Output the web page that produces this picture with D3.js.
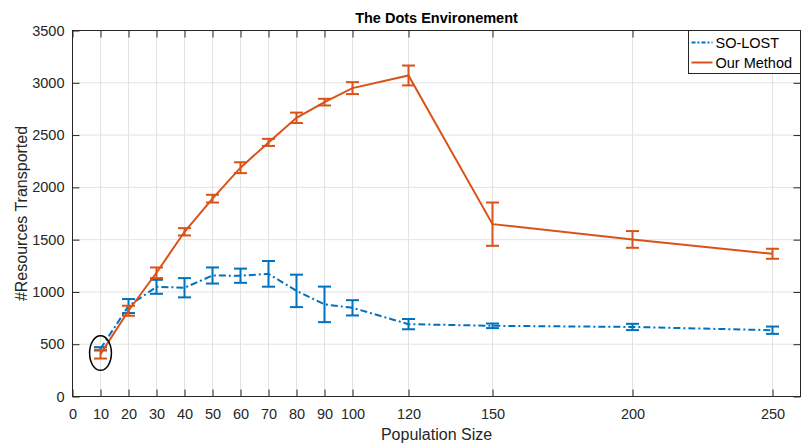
<!DOCTYPE html>
<html>
<head>
<meta charset="utf-8">
<script src="https://cdn.jsdelivr.net/npm/d3@7"></script>
<style>
  body { margin: 0; background: #fff; }
  text { font-family: "Liberation Sans", Arial, sans-serif; }
</style>
</head>
<body>
<div id="figure"></div>
<script>
// population sizes
var popSizes = [10, 20, 30, 40, 50, 60, 70, 80, 90, 100, 120, 150, 200, 250];

// SO-LOST mean and error
var soLost    = [456, 865, 1049, 1040, 1157, 1155, 1173, 1010, 881, 848, 692, 676, 665, 634];
var soLostErr = [16, 67, 67, 92, 77, 68, 123, 155, 170, 73, 49, 22, 30, 35];

// Our Method mean and error
var ourMethod    = [405, 820, 1183, 1575, 1892, 2188, 2430, 2665, 2815, 2949, 3070, 1648, 1502, 1365];
var ourMethodErr = [42, 48, 51, 35, 37, 52, 34, 50, 32, 57, 95, 207, 80, 48];

var xTicks = [0, 10, 20, 30, 40, 50, 60, 70, 80, 90, 100, 120, 150, 200, 250];
var yTicks = [0, 500, 1000, 1500, 2000, 2500, 3000, 3500];

var width = 801, height = 448;
var margin = {top: 30.5, right: 0.5, bottom: 51.5, left: 72.5};

var svg = d3.select("#figure").append("svg")
    .attr("width", width)
    .attr("height", height);

var x = d3.scaleLinear().domain([0, 260]).range([margin.left, width - margin.right]);
var y = d3.scaleLinear().domain([0, 3500]).range([height - margin.bottom, margin.top]);

var blue = "#0072BD", orange = "#D95319", axisCol = "#262626";

// grid
svg.append("g").selectAll("line").data(xTicks).enter().append("line")
    .attr("x1", function(d) { return x(d); }).attr("x2", function(d) { return x(d); })
    .attr("y1", y(0)).attr("y2", y(3500))
    .style("stroke", "#e3e3e3").style("stroke-width", 1);
svg.append("g").selectAll("line").data(yTicks).enter().append("line")
    .attr("x1", x(0)).attr("x2", x(260))
    .attr("y1", function(d) { return y(d); }).attr("y2", function(d) { return y(d); })
    .style("stroke", "#e3e3e3").style("stroke-width", 1);

// axes (ticks inward, box on)
function styleAxis(g) {
  g.select(".domain").remove();
  g.selectAll(".tick line").style("stroke", axisCol);
  g.selectAll(".tick text").style("fill", axisCol).style("font-size", "14.5px")
    .style("font-family", "'Liberation Sans', Arial, sans-serif");
}
svg.append("g").attr("transform", "translate(0," + y(0) + ")")
    .call(d3.axisBottom(x).tickValues(xTicks).tickFormat(d3.format("d"))
      .tickSizeInner(-7).tickSizeOuter(0).tickPadding(12))
    .call(styleAxis);
svg.append("g").attr("transform", "translate(" + x(0) + ",0)")
    .call(d3.axisLeft(y).tickValues(yTicks).tickFormat(d3.format("d"))
      .tickSizeInner(-7).tickSizeOuter(0).tickPadding(8))
    .call(styleAxis);
svg.append("g").attr("transform", "translate(0," + y(3500) + ")")
    .call(d3.axisTop(x).tickValues(xTicks).tickSizeInner(-7).tickSizeOuter(0).tickFormat(""))
    .call(styleAxis);
svg.append("g").attr("transform", "translate(" + x(260) + ",0)")
    .call(d3.axisRight(y).tickValues(yTicks).tickSizeInner(-7).tickSizeOuter(0).tickFormat(""))
    .call(styleAxis);

svg.append("rect")
    .attr("x", x(0)).attr("y", y(3500))
    .attr("width", x(260) - x(0)).attr("height", y(0) - y(3500))
    .style("fill", "none").style("stroke", axisCol).style("stroke-width", 1);

// series
function drawSeries(vals, errs, color, dash) {
  var pts = popSizes.map(function(p, i) { return {x: p, y: vals[i], e: errs[i]}; });
  var line = d3.line().x(function(d) { return x(d.x); }).y(function(d) { return y(d.y); });
  svg.append("path").datum(pts).attr("d", line)
      .style("fill", "none").style("stroke", color).style("stroke-width", 2)
      .style("stroke-dasharray", dash);
  var eb = svg.append("g").selectAll("g").data(pts).enter().append("g")
      .style("stroke", color).style("stroke-width", 2);
  eb.append("line")
      .attr("x1", function(d) { return x(d.x); }).attr("x2", function(d) { return x(d.x); })
      .attr("y1", function(d) { return y(d.y - d.e); }).attr("y2", function(d) { return y(d.y + d.e); });
  eb.append("line")
      .attr("x1", function(d) { return x(d.x) - 6.5; }).attr("x2", function(d) { return x(d.x) + 6.5; })
      .attr("y1", function(d) { return y(d.y + d.e); }).attr("y2", function(d) { return y(d.y + d.e); });
  eb.append("line")
      .attr("x1", function(d) { return x(d.x) - 6.5; }).attr("x2", function(d) { return x(d.x) + 6.5; })
      .attr("y1", function(d) { return y(d.y - d.e); }).attr("y2", function(d) { return y(d.y - d.e); });
}
drawSeries(soLost, soLostErr, blue, "7,3,2,3");
drawSeries(ourMethod, ourMethodErr, orange, null);

// highlight ellipse around first point
svg.append("ellipse")
    .attr("cx", x(popSizes[0])).attr("cy", y(415))
    .attr("rx", x(13.9) - x(10)).attr("ry", y(250) - y(415))
    .style("fill", "none").style("stroke", "#000").style("stroke-width", 1.5);

// title & labels
svg.append("text").attr("x", (x(0) + x(260)) / 2).attr("y", 23)
    .attr("text-anchor", "middle").style("font-weight", "bold").style("font-size", "14.5px")
    .style("fill", "#000").text("The Dots Environement");
svg.append("text").attr("x", (x(0) + x(260)) / 2).attr("y", 440)
    .attr("text-anchor", "middle").style("font-size", "16px").style("fill", axisCol)
    .text("Population Size");
svg.append("text").attr("transform", "translate(27," + (y(0) + y(3500)) / 2 + ") rotate(-90)")
    .attr("text-anchor", "middle").style("font-size", "16px").style("fill", axisCol)
    .text("#Resources Transported");

// legend
var lg = svg.append("g").attr("transform", "translate(688.5,30.5)");
lg.append("rect").attr("width", 112).attr("height", 43)
    .style("fill", "#fff").style("stroke", axisCol).style("stroke-width", 1);
var legendItems = [{name: "SO-LOST", color: blue, dash: "4,2,2,2"}, {name: "Our Method", color: orange, dash: null}];
var li = lg.selectAll("g.item").data(legendItems).enter().append("g")
    .attr("transform", function(d, i) { return "translate(0," + (12 + i * 20) + ")"; });
li.append("line").attr("x1", 3).attr("x2", 24).attr("y1", 0).attr("y2", 0)
    .style("stroke", function(d) { return d.color; }).style("stroke-width", 2)
    .style("stroke-dasharray", function(d) { return d.dash; });
li.append("text").attr("x", 27).attr("y", 5.5).style("font-size", "14.5px").style("fill", "#000")
    .text(function(d) { return d.name; });
</script>
</body>
</html>
